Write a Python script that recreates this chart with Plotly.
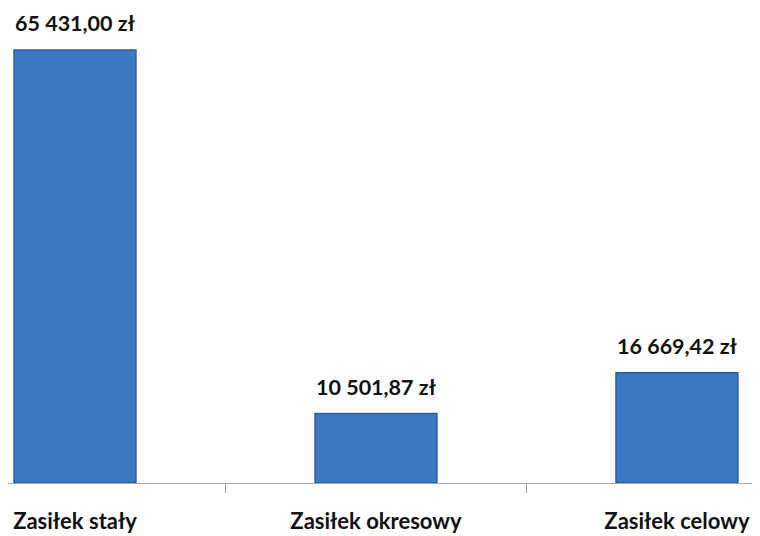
import plotly.graph_objects as go

# Zasiłki - kwoty wypłacone
categories = ['Zasiłek stały', 'Zasiłek okresowy', 'Zasiłek celowy']
amounts = [65431.00, 10501.87, 16669.42]
amount_labels = ['65 431,00 zł', '10 501,87 zł', '16 669,42 zł']

fig = go.Figure()
fig.add_trace(go.Bar(x=categories, y=amounts,
                     marker=dict(color='#3f78c2', line=dict(color='#2d5c9c', width=1.5))))

# value labels above the bars
for cat, val, lab in zip(categories, amounts, amount_labels):
    fig.add_annotation(x=cat, y=val, text=f'<b>{lab}</b>', showarrow=False,
                       yanchor='bottom', yshift=12,
                       font=dict(family='Lato', size=21.5, color='#111111'))

# page body has an 8px margin, so the figure is a bit smaller
fig.update_layout(width=752, height=528,
                  margin=dict(l=0, r=0, t=12, b=53),
                  paper_bgcolor='white', plot_bgcolor='white',
                  bargap=0.595, showlegend=False,
                  font=dict(family='Lato', color='#111111'))
fig.update_xaxes(range=[-0.2226, 2.276], showline=True, linecolor='#a6a6a6', linewidth=1,
                 ticks='outside', tickson='boundaries', ticklen=9, tickcolor='#a6a6a6',
                 tickfont=dict(family='Lato', size=22, color='#111111'),
                 tickprefix='<b>', ticksuffix='</b>',
                 ticklabelstandoff=19, automargin=False)
fig.update_yaxes(range=[0, 69970], visible=False, showgrid=False)

fig.write_html("out.html")
